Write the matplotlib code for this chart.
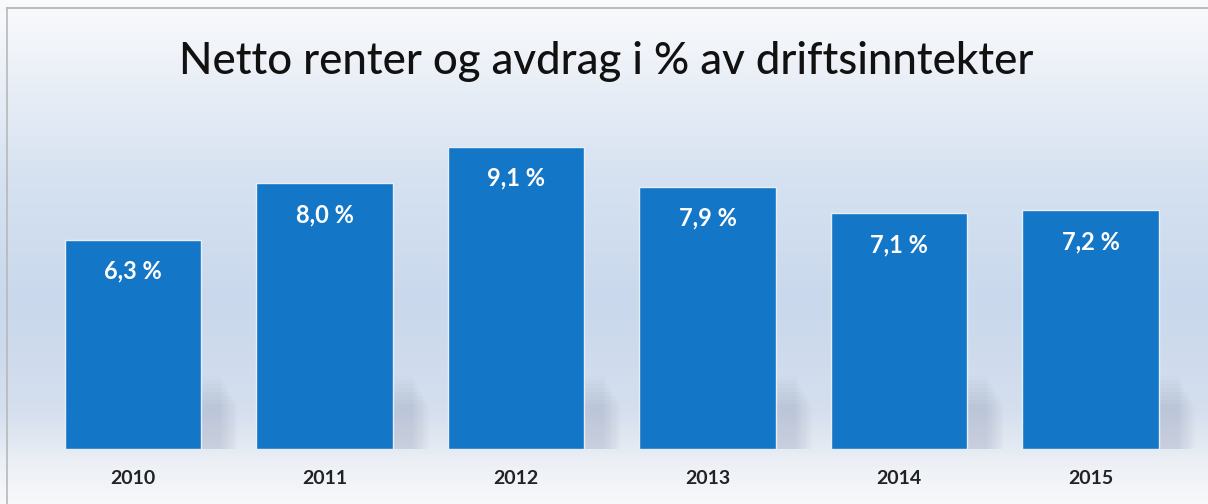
import numpy as np
import matplotlib
matplotlib.use("Agg")
import matplotlib.pyplot as plt
from matplotlib.colors import LinearSegmentedColormap
from matplotlib.lines import Line2D

# data
years = ["2010", "2011", "2012", "2013", "2014", "2015"]
values = [6.3, 8.0, 9.1, 7.9, 7.1, 7.2]
labels = ["6,3 %", "8,0 %", "9,1 %", "7,9 %", "7,1 %", "7,2 %"]

plt.rcParams['font.family'] = ['Lato', 'DejaVu Sans']

fig = plt.figure(figsize=(12.08, 5.04), dpi=100)

# background gradient (white top, light blue middle, white bottom)
cmap = LinearSegmentedColormap.from_list(
    "bg", [(0.0, "#f9fafc"), (0.12, "#eef2f8"), (0.35, "#d6e2f1"),
           (0.6, "#c9d8ec"), (0.82, "#d5dfee"), (0.93, "#eef1f6"), (1.0, "#f7f8fa")])
grad = cmap(np.linspace(0, 1, 504))[:, None, :3] * np.ones((1, 1208, 1))
fig.figimage(grad, xo=0, yo=0, origin="upper", zorder=-5)

# frame lines top and left
fig.add_artist(Line2D([0.006, 0.999], [0.985, 0.985], color="#b0b0b0", lw=1.2, zorder=-1))
fig.add_artist(Line2D([0.006, 0.006], [0.0, 0.985], color="#b8b8b8", lw=1.2, zorder=-1))

ax = fig.add_axes([0, 55 / 504, 1, 398.4 / 504])
ax.set_zorder(2)
ax.patch.set_alpha(0)
x = np.arange(len(years))
# soft shadows behind bars
for xi, v in zip(x, values):
    for k in range(8):
        ax.bar(xi + 0.1 + k * 0.012, 2.2 - k * 0.12, width=0.72, bottom=0,
               color="#8a92b0", alpha=0.04, zorder=1, lw=0)
ax.bar(x, values, width=0.715, color="#1476c6", edgecolor="#e6eef8",
       linewidth=1.0, zorder=2)
for xi, v, lab in zip(x, values, labels):
    ax.text(xi, v - 0.95, lab, color="white", ha="center", va="center",
            fontsize=17, fontweight="bold", zorder=3)
ax.set_xlim(-0.6945, 5.6136)
ax.set_ylim(0, 12)
ax.axis("off")

for xi, yr in zip(x, years):
    fig.text((133 + 191.5 * xi) / 1208, 1 - 478 / 504, yr, ha="center",
             va="center", fontsize=14, fontweight="bold", color="#222222")

fig.text(606 / 1208, 1 - 62 / 504, "Netto renter og avdrag i % av driftsinntekter",
         ha="center", va="center", fontsize=31.5, fontweight="medium", color="#111111")

fig.savefig("out.png", dpi=100)
